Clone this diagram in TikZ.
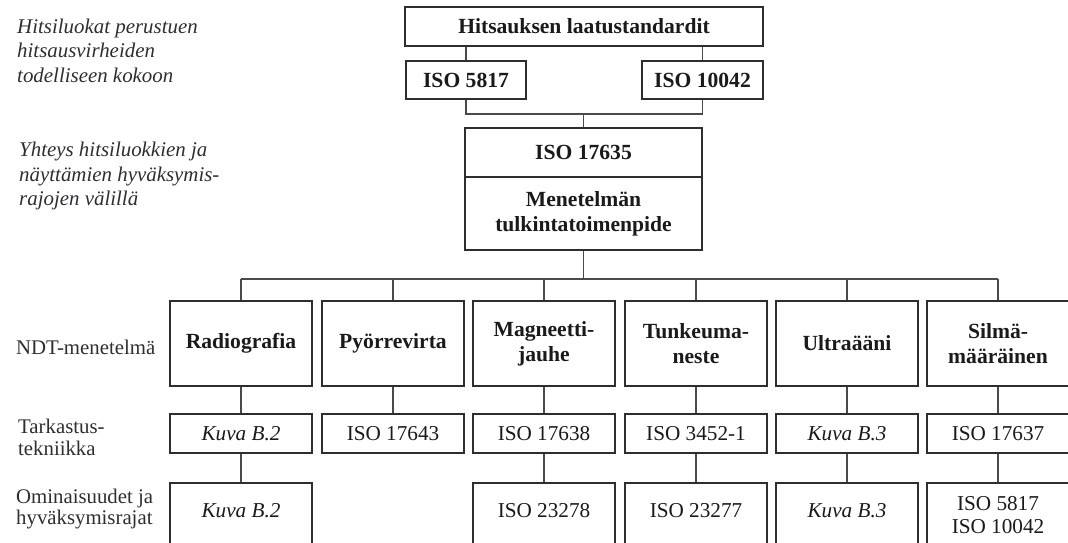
\documentclass[tikz,border=0pt]{standalone}
\usepackage{fontspec}
\setmainfont{Liberation Serif}
\definecolor{boxgray}{HTML}{2E2E2E}
\definecolor{linkgray}{HTML}{4A4A4A}
\definecolor{textblack}{HTML}{1A1A1A}
\definecolor{labelgray}{HTML}{2E2E34}
\begin{document}
\begin{tikzpicture}[x=1pt,y=-1pt,
  box/.style={draw=boxgray, line width=1.9pt, fill=white, inner sep=0pt,
              align=center, text=textblack},
  head/.style={box, font=\fontsize{21.6}{25}\selectfont\bfseries},
  ref/.style={box, font=\fontsize{21.2}{23}\selectfont},
  link/.style={draw=linkgray, line width=1.5pt},
  side/.style={anchor=west, align=left, inner sep=0pt, text=labelgray},
  sideit/.style={side, font=\fontsize{20.9}{24.5}\selectfont\itshape},
  sideup/.style={side, font=\fontsize{20.8}{21.5}\selectfont}
]
\fill[white] (0,0) rectangle (1068,542);
\clip (0,0) rectangle (1068,542);

% --- row labels on the left
\node[sideit] (lab1) at (17,50.5) {Hitsiluokat perustuen\\hitsausvirheiden\\todelliseen kokoon};
\node[sideit] (lab2) at (19,176) {Yhteys hitsiluokkien ja\\näyttämien hyväksymis-\\rajojen välillä};
\node[sideup] (lab3) at (16,347) {NDT-menetelmä};
\node[sideup] (lab4) at (18,437.5) {Tarkastus-\\tekniikka};
\node[sideup] (lab5) at (16,509) {Ominaisuudet ja\\hyväksymisrajat};

% --- standards hierarchy
\node[head, minimum width=358, minimum height=39] (top) at (584,26.5) {Hitsauksen laatustandardit};
\node[head, minimum width=120, minimum height=38] (s5817) at (466,80) {ISO 5817};
\node[head, minimum width=121, minimum height=38] (s10042) at (702.5,80) {ISO 10042};
\node[head, minimum width=237, minimum height=49] (s17635) at (583.5,152.5) {ISO 17635};
\node[head, minimum width=237, minimum height=73] (tulk) at (583.5,213.5) {Menetelmän\\tulkintatoimenpide};

\coordinate (j1) at (583.5,114);
\coordinate (bus) at (583.5,279);

\draw[link] (top.south -| s5817) -- (s5817.north);
\draw[link] (top.south -| s10042) -- (s10042.north);
\draw[link] (s5817.south) |- (j1) -| (s10042.south);
\draw[link] (j1) -- (s17635.north);
\draw[link] (tulk.south) -- (bus);

% --- NDT methods and their inspection techniques
\foreach \i/\cx/\meth/\tech in {
  1/241/{Radiografia}/{\itshape Kuva B.2},
  2/393/{Pyörrevirta}/{ISO 17643},
  3/544/{Magneetti-\\jauhe}/{ISO 17638},
  4/696/{Tunkeuma-\\neste}/{ISO 3452-1},
  5/847/{Ultraääni}/{\itshape Kuva B.3},
  6/998/{Silmä-\\määräinen}/{ISO 17637}} {
  \node[head, minimum width=142, minimum height=85] (m\i) at (\cx,343.5) {\meth};
  \node[ref, minimum width=142, minimum height=39] (t\i) at (\cx,433.5) {\tech};
  \draw[link] (m\i.south) -- (t\i.north);
  \draw[link] (m\i.north) -- (m\i.north |- bus);
}
\draw[link] (m1.north |- bus) -- (m6.north |- bus);

% --- acceptance levels (boxes run on past the lower edge)
\foreach \i/\cx/\acc in {
  1/241/{\itshape Kuva B.2},
  3/544/{ISO 23278},
  4/696/{ISO 23277},
  5/847/{\itshape Kuva B.3}} {
  \node[ref, minimum width=142, minimum height=87] (p\i) at (\cx,526.5) {};
  \node[ref, draw=none, fill=none] (pt\i) at (\cx,511) {\acc};
  \draw[link] (t\i.south) -- (p\i.north);
}
\node[ref, minimum width=142, minimum height=87] (p6) at (998,526.5) {};
\node[ref, draw=none, fill=none] (pt6) at (998,515) {ISO 5817\\ISO 10042};
\draw[link] (t6.south) -- (p6.north);
\end{tikzpicture}
\end{document}
